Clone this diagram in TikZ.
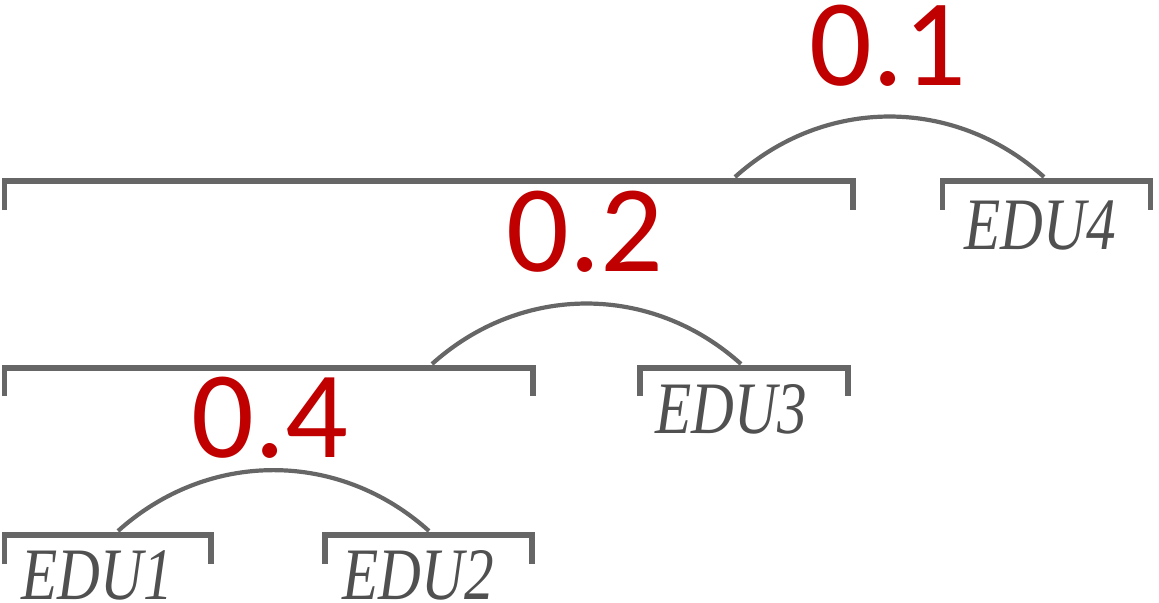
\documentclass[tikz,border=0pt]{standalone}
\usepackage{fontspec}
\setmainfont{Liberation Serif}
\newfontfamily\scorefont{Carlito}
\usetikzlibrary{positioning}

\definecolor{linegray}{HTML}{666666}
\definecolor{textgray}{HTML}{505050}
\definecolor{scorered}{HTML}{C00000}

\begin{document}
\begin{tikzpicture}[x = 0.5pt, y = -0.5pt,
    bracket/.style = {draw = linegray, line width = 2.6pt},
    link/.style = {draw = linegray, line width = 2.1pt, bend left = 42},
    score/.style = {text = scorered, anchor = base, inner sep = 0pt,
        text height = 0.64em, text depth = 0pt,
        font = \scorefont\fontsize{62}{72}\selectfont},
    edu/.style = {text = textgray, anchor = base, inner sep = 0pt,
        text height = 0.66em, text depth = 0pt,
        font = \itshape\fontsize{37}{44}\selectfont}
]

        \useasboundingbox (0, 0) rectangle (1159, 603);

        % Ends of the arcs joining the spans.
        \coordinate (L1) at (118, 531);
        \coordinate (R1) at (429, 531);
        \coordinate (L2) at (432, 364);
        \coordinate (R2) at (741, 364);
        \coordinate (L3) at (735, 177);
        \coordinate (R3) at (1044, 177);

        % Spans, each one a bracket open at the bottom.
        \draw[bracket] (4.5, 564) -- (4.5, 535) -- (211, 535) -- (211, 564);
        \draw[bracket] (325, 564) -- (325, 535) -- (532, 535) -- (532, 564);
        \draw[bracket] (4.5, 396) -- (4.5, 368) -- (533, 368) -- (533, 396);
        \draw[bracket] (640, 396) -- (640, 368) -- (848, 368) -- (848, 396);
        \draw[bracket] (4.5, 210) -- (4.5, 181) -- (853, 181) -- (853, 210);
        \draw[bracket] (942.5, 210) -- (942.5, 181) -- (1150.5, 181) -- (1150.5, 210);

        % The units under the brackets.
        \node[edu] (edu1) at (97, 599) {\scalebox{0.8}[1]{EDU1}};
        \node[edu] (edu2) at (418, 599) {\scalebox{0.8}[1]{EDU2}};
        \node[edu] (edu3) at (731, 433) {\scalebox{0.8}[1]{EDU3}};
        \node[edu] (edu4) at (1040, 250) {\scalebox{0.8}[1]{EDU4}};

        % Arcs and their scores.
        \draw[link] (L1) to (R1);
        \draw[link] (L2) to (R2);
        \draw[link] (L3) to (R3);
        \node[score] (s1) at (270, 457) {0.4};
        \node[score] (s2) at (585, 272) {0.2};
        \node[score] (s3) at (888, 86) {0.1};
    \end{tikzpicture}
\end{document}
